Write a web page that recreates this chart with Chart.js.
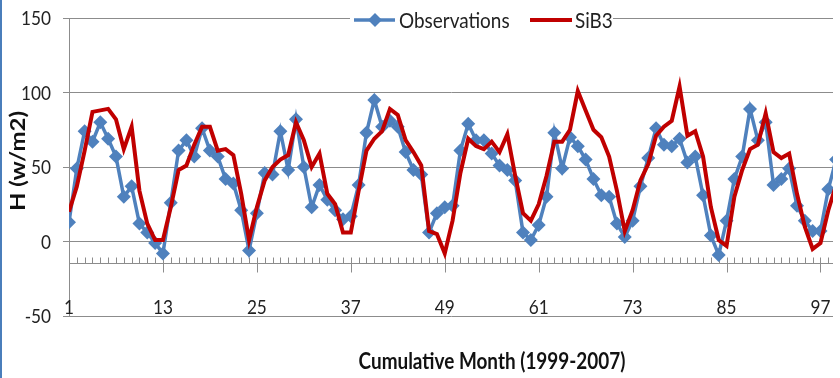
<!DOCTYPE html>
<html>
<head>
<meta charset="utf-8">
<title>Sensible heat flux: observations vs SiB3</title>
<script src="https://cdn.jsdelivr.net/npm/chart.js@4.4.1/dist/chart.umd.min.js"></script>
<style>
  html, body { margin: 0; padding: 0; background: #fff; }
  #wrap { position: relative; width: 840px; height: 378px; }
  #edge { position: absolute; left: 0; top: 0; width: 2px; height: 378px; background: #4a7ebb; }
</style>
</head>
<body>
<div id="wrap">
  <canvas id="hChart" width="840" height="378"></canvas>
  <div id="edge"></div>
</div>
<script>
// --- DATA (monthly H, W/m2) ---
const firstMonth = 1;
const tickLabels = [1, 13, 25, 37, 49, 61, 73, 85, 97];
const yTicks = [150, 100, 50, 0, -50];
const observations = [
  13, 49, 74, 67, 80, 69, 57, 30, 37, 12, 6, -1,
  -8, 26, 61, 68, 57, 76, 61, 57, 42, 39, 21, -6,
  19, 46, 45, 74, 48, 82, 50, 23, 38, 28, 21, 15,
  17, 38, 73, 95, 77, 81, 77, 60, 48, 45, 6, 19,
  23, 24, 61, 79, 68, 68, 59, 51, 48, 41, 6, 1,
  11, 30, 73, 49, 70, 64, 55, 42, 31, 30, 12, 3,
  14, 37, 56, 76, 65, 64, 69, 53, 57, 31, 4, -9,
  14, 42, 57, 89, 68, 80, 38, 42, 49, 24, 14, 7,
  7, 35, 55
];
const sib3 = [
  20, 37, 61, 87, 88, 89, 82, 62, 77, 34, 12, 1,
  1, 23, 48, 51, 65, 77, 77, 61, 62, 58, 32, 1,
  23, 41, 50, 55, 58, 80, 68, 50, 59, 32, 25, 6,
  6, 34, 61, 69, 74, 89, 85, 68, 60, 51, 7, 5,
  -8, 14, 46, 69, 64, 62, 67, 60, 72, 44, 19, 14,
  25, 44, 67, 67, 75, 101, 88, 75, 70, 57, 34, 7,
  21, 41, 52, 71, 77, 81, 104, 71, 74, 57, 23, 1,
  -3, 30, 48, 62, 65, 86, 60, 56, 59, 32, 10, -5,
  -1, 21, 38
];
const axisCross = -14.6;   // month axis sits below zero, like the original
const gridGray = '#8c8c8c';
const fontFamily = 'Lato, "Open Sans", sans-serif';
const squash = 0.86;       // original text is a narrow (Calibri-like) face

function toPoints(values) {
  return values.map((v, i) => ({ x: firstMonth + i, y: v }));
}

// narrow text: draw with a horizontal squeeze
function narrowText(ctx, text, x, y, font, align) {
  ctx.save();
  ctx.font = font;
  ctx.textAlign = align;
  ctx.textBaseline = 'middle';
  ctx.translate(x, y);
  ctx.scale(squash, 1);
  ctx.fillText(text, 0, 0);
  ctx.restore();
}

// Excel-style month axis, tick labels, titles and legend
const excelAxis = {
  id: 'excelAxis',
  beforeDatasetsDraw(chart) {
    const { ctx, chartArea: a, scales: { x, y } } = chart;
    const yLine = Math.round(y.getPixelForValue(axisCross)) + 0.5;
    ctx.save();
    ctx.strokeStyle = gridGray;
    ctx.lineWidth = 1;
    ctx.beginPath();
    ctx.moveTo(a.left, yLine);
    ctx.lineTo(a.right, yLine);
    for (let m = firstMonth + 1; x.getPixelForValue(m) <= a.right; m++) {
      const px = Math.round(x.getPixelForValue(m)) + 0.5;
      ctx.moveTo(px, yLine);
      ctx.lineTo(px, yLine - 6);
    }
    tickLabels.forEach(t => {
      const px = Math.round(x.getPixelForValue(t)) + 0.5;
      ctx.moveTo(px, yLine);
      ctx.lineTo(px, yLine + 9);
    });
    ctx.stroke();
    ctx.restore();
  },
  afterDraw(chart) {
    const { ctx, scales: { x, y } } = chart;
    ctx.save();
    ctx.fillStyle = '#222';
    tickLabels.forEach(t => narrowText(ctx, String(t), x.getPixelForValue(t), 308, '20px ' + fontFamily, 'center'));
    yTicks.forEach(t => narrowText(ctx, String(t), 51, y.getPixelForValue(t) + 1, '20px ' + fontFamily, 'right'));

    ctx.fillStyle = '#111';
    narrowText(ctx, 'Cumulative Month (1999-2007)', 492, 362, 'bold 22px ' + fontFamily, 'center');

    // rotated y title
    ctx.save();
    ctx.translate(18, 161);
    ctx.rotate(-Math.PI / 2);
    ctx.scale(1, squash);
    ctx.font = 'bold 24px ' + fontFamily;
    ctx.textAlign = 'center';
    ctx.textBaseline = 'middle';
    ctx.fillText('H (w/m2)', 0, 0);
    ctx.restore();

    // legend (white box over the top gridline)
    ctx.fillStyle = '#fff';
    ctx.fillRect(350, 8, 263, 24);
    ctx.lineWidth = 3.5;
    ctx.strokeStyle = '#4F81BD';
    ctx.beginPath();
    ctx.moveTo(354, 20); ctx.lineTo(395, 20);
    ctx.stroke();
    ctx.fillStyle = '#4F81BD';
    ctx.beginPath();
    ctx.moveTo(375, 13); ctx.lineTo(382, 20); ctx.lineTo(375, 27); ctx.lineTo(368, 20);
    ctx.closePath();
    ctx.fill();
    ctx.strokeStyle = '#C00000';
    ctx.lineWidth = 4;
    ctx.beginPath();
    ctx.moveTo(530, 20); ctx.lineTo(572, 20);
    ctx.stroke();
    ctx.fillStyle = '#222';
    narrowText(ctx, 'Observations', 399, 21, '22px ' + fontFamily, 'left');
    narrowText(ctx, 'SiB3', 575, 21, '22px ' + fontFamily, 'left');
    ctx.restore();
  }
};

new Chart(document.getElementById('hChart').getContext('2d'), {
  type: 'line',
  data: {
    datasets: [
      {
        label: 'Observations',
        data: toPoints(observations),
        borderColor: '#4F81BD',
        backgroundColor: '#4F81BD',
        borderWidth: 3.5,
        pointStyle: 'rectRot',
        pointRadius: 7,
        pointBorderWidth: 0,
        tension: 0,
        order: 1
      },
      {
        label: 'SiB3',
        data: toPoints(sib3),
        borderColor: '#C00000',
        backgroundColor: '#C00000',
        borderWidth: 4,
        pointRadius: 0,
        tension: 0,
        order: 0
      }
    ]
  },
  options: {
    responsive: false,
    animation: false,
    layout: { padding: { top: 18, bottom: 62, left: 0, right: 0 } },
    plugins: { legend: { display: false }, tooltip: { enabled: false } },
    scales: {
      x: { type: 'linear', min: 1, max: 98.6, display: false },
      y: {
        min: -50,
        max: 150,
        ticks: { stepSize: 50, display: false },
        grid: { color: gridGray, tickLength: 6, tickColor: gridGray },
        border: { color: gridGray },
        afterFit(scale) { scale.width = 69; }
      }
    }
  },
  plugins: [excelAxis]
});
</script>
</body>
</html>
